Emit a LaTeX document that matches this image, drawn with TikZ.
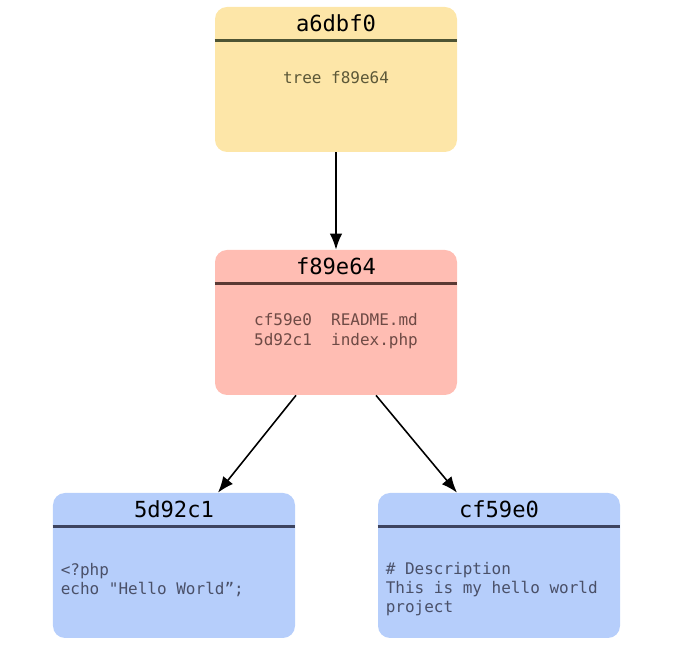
\documentclass[tikz,border=0pt]{standalone}
\usepackage{fontspec}
\newfontfamily\codefont{DejaVu Sans Mono}
\usetikzlibrary{arrows.meta}

\definecolor{commitfill}{HTML}{FDE6A8}
\definecolor{commitline}{HTML}{4E5433}
\definecolor{committext}{HTML}{5C5838}
\definecolor{treefill}{HTML}{FFBDB3}
\definecolor{treeline}{HTML}{5A3934}
\definecolor{treetext}{HTML}{6E4A45}
\definecolor{blobfill}{HTML}{B6CEFB}
\definecolor{blobline}{HTML}{3D4460}
\definecolor{blobtext}{HTML}{4A5068}

\begin{document}
\begin{tikzpicture}[auto,
   object/.style ={rectangle, rounded corners=0.24cm, inner sep=0pt, minimum width=4.84cm, minimum height=2.9cm},
   divider/.style ={line width=1.4pt},
   title/.style ={font=\codefont\fontsize{12.6}{14}\selectfont, inner sep=0pt},
   content/.style ={font=\codefont\fontsize{9.1}{11}\selectfont, align=left, inner sep=0pt},
   link/.style ={line width=0.9pt, -{Latex[length=3.2mm, width=2.5mm]}}]
   \useasboundingbox (0,0) rectangle (13.64,-12.94);

   \node[object, fill=commitfill] (commit) at (6.72,-1.59) {};
   \node[object, fill=treefill] (tree) at (6.72,-6.45) {};
   \node[object, fill=blobfill] (php) at (3.48,-11.31) {};
   \node[object, fill=blobfill] (readme) at (9.98,-11.31) {};

   \draw[divider, commitline] ([yshift=-0.68cm]commit.north west) to ([yshift=-0.68cm]commit.north east);
   \draw[divider, treeline] ([yshift=-0.68cm]tree.north west) to ([yshift=-0.68cm]tree.north east);
   \draw[divider, blobline] ([yshift=-0.68cm]php.north west) to ([yshift=-0.68cm]php.north east);
   \draw[divider, blobline] ([yshift=-0.68cm]readme.north west) to ([yshift=-0.68cm]readme.north east);

   \node[title] (commit title) at ([yshift=-0.33cm]commit.north) {a6dbf0};
   \node[title] (tree title) at ([yshift=-0.33cm]tree.north) {f89e64};
   \node[title] (php title) at ([yshift=-0.33cm]php.north) {5d92c1};
   \node[title] (readme title) at ([yshift=-0.33cm]readme.north) {cf59e0};

   \node[content, text=committext] (commit body) at (6.72,-1.56) {tree f89e64};
   \node[content, text=treetext] (tree body) at (6.72,-6.62) {cf59e0\ \ README.md\\5d92c1\ \ index.php};
   \node[content, text=blobtext, anchor=west] (php body) at (1.21,-11.6) {<?php\\echo "Hello World”;};
   \node[content, text=blobtext, anchor=west] (readme body) at (7.71,-11.78) {\# Description\\This is my hello world\\project};

   \draw[link] (commit) to (tree);
   \draw[link] ([xshift=-0.8cm]tree.south) to ([xshift=0.88cm]php.north);
   \draw[link] ([xshift=0.8cm]tree.south) to ([xshift=-0.84cm]readme.north);
 \end{tikzpicture}
\end{document}
